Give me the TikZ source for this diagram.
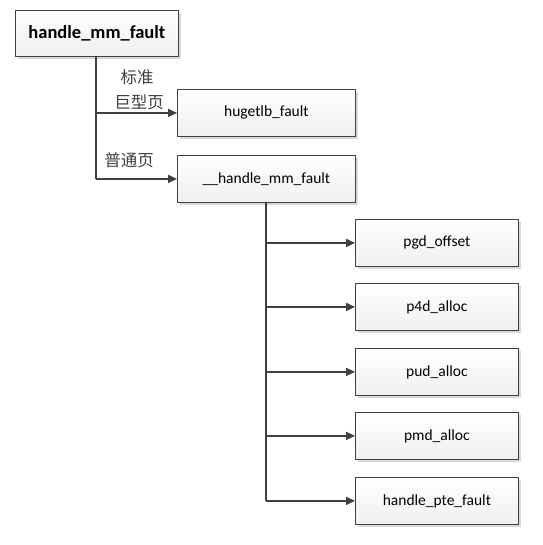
\documentclass[tikz,border=0pt]{standalone}
\usepackage{fontspec}
\setmainfont{Carlito}
\newfontfamily\cjk{Noto Sans CJK SC}
\usetikzlibrary{arrows.meta,shadows}
\definecolor{lineC}{HTML}{404040}
\tikzset{
  fbox/.style={draw=lineC, line width=0.8pt, top color=white, bottom color=gray!12,
    minimum height=47pt, anchor=north west, inner sep=0pt,
    drop shadow={shadow xshift=3pt, shadow yshift=-3pt, fill=gray!30, opacity=1},
    font=\fontsize{15.5}{18}\selectfont},
  conn/.style={draw=lineC, line width=1.6pt},
  arr/.style={conn, -{Triangle[length=9pt,width=8pt]}},
  lbl/.style={font=\cjk\fontsize{16.5}{19}\selectfont, inner sep=0pt, text=lineC}
}
\begin{document}
\begin{tikzpicture}[x=1pt,y=-1pt]
\useasboundingbox[fill=white] (0,0) rectangle (542,545);
\node[fbox, minimum width=163pt, minimum height=46pt, font=\fontsize{18.5}{22}\selectfont\bfseries] (top) at (15,10) {handle\_mm\_fault};
\node[fbox, minimum width=178pt] (huge) at (177,89) {hugetlb\_fault};
\node[fbox, minimum width=178pt] (hmm) at (177,155) {\_\_handle\_mm\_fault};
\node[fbox, minimum width=163pt] (pgd) at (355,219) {pgd\_offset};
\node[fbox, minimum width=163pt] (p4d) at (355,283) {p4d\_alloc};
\node[fbox, minimum width=163pt] (pud) at (355,348) {pud\_alloc};
\node[fbox, minimum width=163pt] (pmd) at (355,412) {pmd\_alloc};
\node[fbox, minimum width=163pt] (pte) at (355,477) {handle\_pte\_fault};
\coordinate (a1) at (96,0 |- top.south);
\coordinate (a1e) at (96,178);
\draw[conn] (top.south -| a1) -- (a1e |- hmm.west);
\draw[arr] (a1 |- huge.west) -- (huge.west);
\draw[arr] (a1 |- hmm.west) -- (hmm.west);
\coordinate (b1) at (266,0);
\draw[conn] (b1 |- hmm.south) -- (b1 |- pte.west);
\foreach \n in {pgd,p4d,pud,pmd,pte}{
  \draw[arr] (b1 |- \n.west) -- (\n.west);
}
\node[lbl] (l1) at (137,77) {标准};
\node[lbl] (l2) at (139,102) {巨型页};
\node[lbl] (l3) at (129,160) {普通页};
\end{tikzpicture}
\end{document}
